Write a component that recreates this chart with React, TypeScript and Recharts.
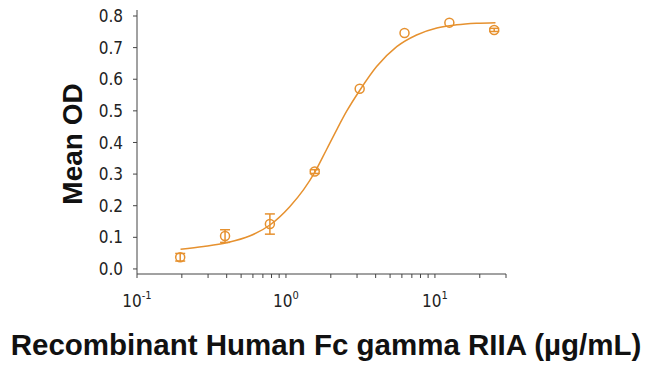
import React from "react"
import { ComposedChart, Line, Scatter, ErrorBar, XAxis, YAxis } from "recharts"

// measured points (conc in µg/mL, mean OD, sd)
const conc = [0.195, 0.39, 0.78, 1.56, 3.125, 6.25, 12.5, 25]
const meanOD = [0.037, 0.104, 0.142, 0.308, 0.57, 0.746, 0.779, 0.756]
const sd = [0.012, 0.02, 0.032, 0.006, null, null, null, 0.005]

// fitted curve
const fitConc = [0.196, 0.28, 0.4, 0.57, 0.78, 1.06, 1.31, 1.57, 1.87, 2.19, 2.55, 3.14, 4.06, 5.54, 7.53, 10.3, 14, 19, 25.5]
const fitOD = [0.062, 0.071, 0.083, 0.104, 0.139, 0.197, 0.25, 0.308, 0.377, 0.44, 0.498, 0.566, 0.64, 0.703, 0.74, 0.762, 0.772, 0.777, 0.779]

const xTicks = [0.1, 0.2, 0.3, 0.4, 0.5, 0.6, 0.7, 0.8, 0.9, 1, 2, 3, 4, 5, 6, 7, 8, 9, 10, 20, 30]
const decadeLabels: Record<number, string> = { 0.1: "-1", 1: "0", 10: "1" }
const yTicks = [0, 0.1, 0.2, 0.3, 0.4, 0.5, 0.6, 0.7, 0.8]

const points = conc.map((x, i) => ({ x, y: meanOD[i], err: sd[i] }))
const curve = fitConc.map((x, i) => ({ x, y: fitOD[i] }))

const ORANGE = "#E6912F"
const AXIS = "#444"
const W = 650
const H = 372
const tickFont = "'Liberation Sans Narrow', 'DejaVu Sans Condensed', sans-serif"
const labelFont = "'Liberation Sans', Arial, sans-serif"

function XTick(props: any) {
  const { x, y, payload } = props
  const exp = decadeLabels[payload.value]
  if (exp === undefined) return null
  return (
    <text x={x} y={y + 27} textAnchor="middle" fontSize={17} fill="#222" fontFamily={tickFont}>
      10
      <tspan dy={-8} fontSize={11}>{exp}</tspan>
    </text>
  )
}

function YLabel(props: any) {
  const { viewBox } = props
  const cx = viewBox.x + 72
  const cy = viewBox.y + viewBox.height / 2 + 2
  return (
    <text
      x={cx}
      y={cy}
      transform={`rotate(-90 ${cx} ${cy})`}
      textAnchor="middle"
      dominantBaseline="central"
      fontSize={28}
      fontWeight="bold"
      fontFamily={labelFont}
      fill="#111"
    >
      Mean OD
    </text>
  )
}

function XLabel() {
  return (
    <text x={W / 2 + 1} y={H - 17} textAnchor="middle" fontSize={29.5} fontWeight="bold" fontFamily={labelFont} fill="#111">
      Recombinant Human Fc gamma RIIA (µg/mL)
    </text>
  )
}

function Ring(props: any) {
  const { cx, cy } = props
  return <circle cx={cx} cy={cy} r={4.5} fill="none" stroke={ORANGE} strokeWidth={1.5} />
}

export default function App() {
  return (
    <div style={{ position: "absolute", left: 0, top: 0, background: "#fff" }}>
      <ComposedChart width={W} height={H} margin={{ top: 10, right: 144, left: 0, bottom: 0 }}>
        <XAxis
          dataKey="x"
          type="number"
          scale="log"
          domain={[0.1, 30]}
          allowDataOverflow
          ticks={xTicks}
          interval={0}
          tickSize={4}
          height={98}
          stroke={AXIS}
          tick={<XTick />}
          label={<XLabel />}
        />
        <YAxis
          dataKey="y"
          type="number"
          domain={[-0.016, 0.819]}
          allowDataOverflow
          ticks={yTicks}
          interval={0}
          tickSize={4}
          tickMargin={10}
          width={137}
          stroke={AXIS}
          tick={{ fontSize: 17, fill: "#222", fontFamily: tickFont }}
          tickFormatter={(v: number) => v.toFixed(1)}
          label={<YLabel />}
        />
        <Line
          data={curve}
          dataKey="y"
          type="monotone"
          stroke={ORANGE}
          strokeWidth={1.5}
          dot={false}
          isAnimationActive={false}
        />
        <Scatter data={points} dataKey="y" shape={<Ring />} isAnimationActive={false}>
          <ErrorBar dataKey="err" direction="y" width={5} stroke={ORANGE} strokeWidth={1.5} />
        </Scatter>
      </ComposedChart>
    </div>
  )
}
